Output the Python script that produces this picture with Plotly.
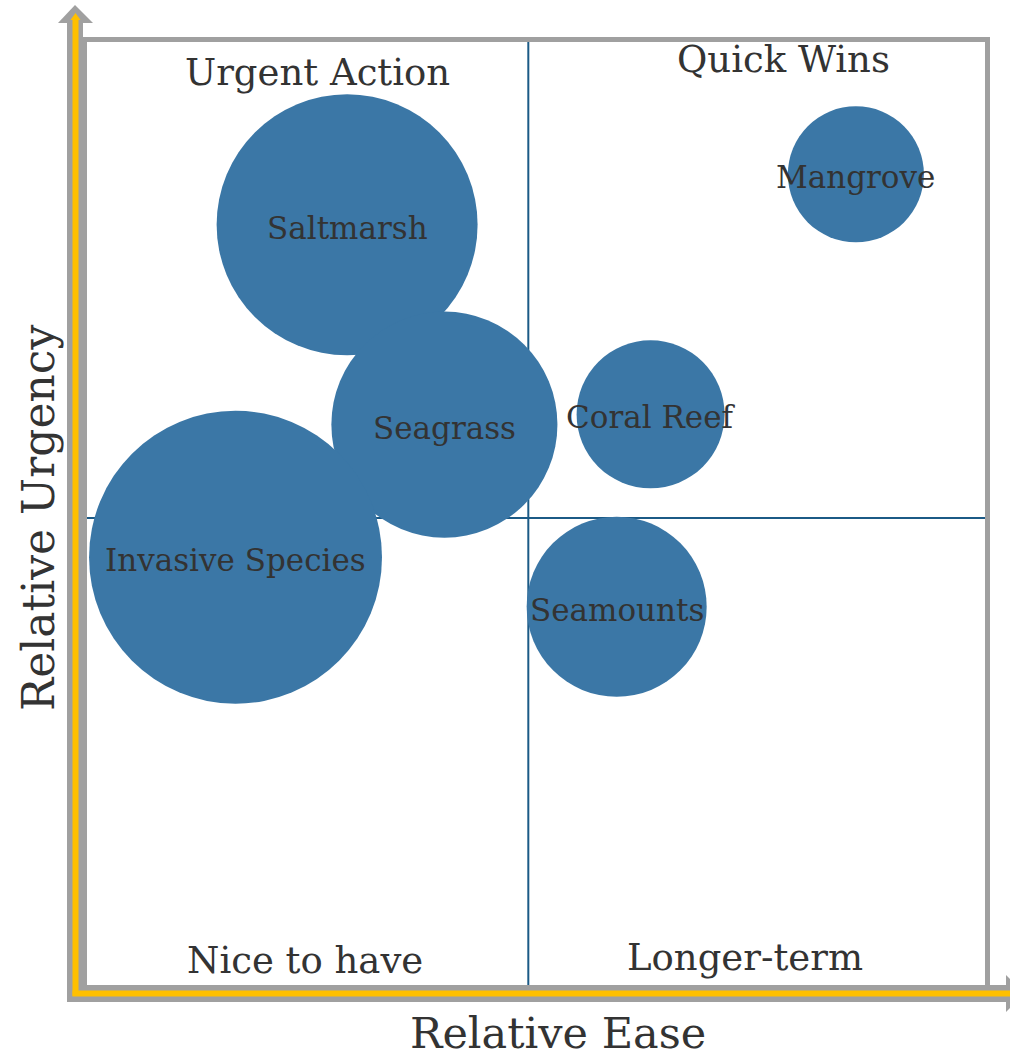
import plotly.graph_objects as go

# ---- data ----
habitats = ["Saltmarsh", "Seagrass", "Invasive Species", "Coral Reef", "Seamounts", "Mangrove"]
ease = [2.97, 4.06, 1.72, 6.37, 5.99, 8.67]
urgency = [8.14, 6.00, 4.58, 6.11, 4.05, 8.68]
impact = [6.81, 5.11, 8.58, 2.19, 3.24, 1.85]
quadrant_lines = [5.0, 5.0]  # ease split, urgency split
axis_range = [0, 10.15]

W, H = 1010, 1057
L, R, T, B = 82, 988, 37, 985
FONT = "DejaVu Serif"
TXT = "#333333"
BUBBLE = "#3b77a6"
GRAY = "#a0a0a0"
YEL = "#ffc000"


def px(x):
    return (x - L) / (R - L)


def py(y):
    return (B - y) / (B - T)


fig = go.Figure()
fig.add_trace(go.Scatter(
    x=ease, y=urgency, mode="markers",
    marker=dict(size=impact, sizemode="area", sizeref=2e-4, color=BUBBLE,
                line=dict(width=0), opacity=1),
    cliponaxis=False, hovertext=habitats, hoverinfo="text", showlegend=False,
))

shapes = []
# quadrant lines
shapes.append(dict(type="line", xref="x", yref="paper", x0=quadrant_lines[0], x1=quadrant_lines[0],
                   y0=0, y1=1, line=dict(color="#1b5a86", width=2), layer="below"))
shapes.append(dict(type="line", xref="paper", yref="y", x0=0, x1=1, y0=quadrant_lines[1],
                   y1=quadrant_lines[1], line=dict(color="#1b5a86", width=2), layer="below"))
# frame
shapes.append(dict(type="rect", xref="paper", yref="paper", x0=px(84.5), x1=px(987.5), y0=py(987.5),
                   y1=py(39.5), line=dict(color=GRAY, width=5), layer="above"))
# y arrow
shapes.append(dict(type="line", xref="paper", yref="paper", x0=px(75), x1=px(75), y0=py(1002),
                   y1=py(22), line=dict(color=GRAY, width=16), layer="above"))
shapes.append(dict(type="path", xref="paper", yref="paper",
                   path=f"M {px(58)} {py(23)} L {px(93)} {py(23)} L {px(75)} {py(5)} Z",
                   fillcolor=GRAY, line=dict(width=0), layer="above"))
# x arrow
shapes.append(dict(type="line", xref="paper", yref="paper", x0=px(67), x1=px(1008), y0=py(993.5),
                   y1=py(993.5), line=dict(color=GRAY, width=17), layer="above"))
shapes.append(dict(type="path", xref="paper", yref="paper",
                   path=f"M {px(1006)} {py(975)} L {px(1006)} {py(1012)} L {px(1025)} {py(993.5)} Z",
                   fillcolor=GRAY, line=dict(width=0), layer="above"))
# yellow shafts
shapes.append(dict(type="line", xref="paper", yref="paper", x0=px(75.5), x1=px(75.5), y0=py(996),
                   y1=py(18), line=dict(color=YEL, width=6), layer="above"))
shapes.append(dict(type="path", xref="paper", yref="paper",
                   path=f"M {px(70.5)} {py(20)} L {px(80.5)} {py(20)} L {px(75.5)} {py(13)} Z",
                   fillcolor=YEL, line=dict(width=0), layer="above"))
shapes.append(dict(type="line", xref="paper", yref="paper", x0=px(72.5), x1=px(1012), y0=py(993.5),
                   y1=py(993.5), line=dict(color=YEL, width=6), layer="above"))

annotations = []
# bubble labels, placed at each bubble's data position
for name, xv, yv in zip(habitats, ease, urgency):
    annotations.append(dict(text=name, x=xv, y=yv, xref="x", yref="y", showarrow=False,
                            xanchor="center", yanchor="middle", yshift=-3,
                            font=dict(family=FONT, size=31, color=TXT)))
for txt, cx, cy, sz in [("Urgent Action", 317, 72, 37), ("Quick Wins", 783, 60, 37),
                        ("Nice to have", 305, 960, 37), ("Longer-term", 745, 957, 37)]:
    annotations.append(dict(text=txt, x=px(cx), y=py(cy), xref="paper", yref="paper",
                            showarrow=False, xanchor="center", yanchor="middle",
                            font=dict(family=FONT, size=sz, color=TXT)))
annotations.append(dict(text="Relative Ease", x=px(558), y=py(1033), xref="paper", yref="paper",
                        showarrow=False, xanchor="center", yanchor="middle",
                        font=dict(family=FONT, size=43, color=TXT)))
annotations.append(dict(text="Relative Urgency", x=px(38), y=py(518), xref="paper", yref="paper",
                        showarrow=False, xanchor="center", yanchor="middle", textangle=-90,
                        font=dict(family=FONT, size=44, color=TXT)))

fig.update_layout(
    width=W, height=H,
    margin=dict(l=L, r=W - R, t=T, b=H - B),
    paper_bgcolor="white", plot_bgcolor="white",
    xaxis=dict(range=axis_range, showgrid=False, zeroline=False, showticklabels=False,
               ticks="", showline=False, fixedrange=True),
    yaxis=dict(range=axis_range, showgrid=False, zeroline=False, showticklabels=False,
               ticks="", showline=False, fixedrange=True),
    shapes=shapes, annotations=annotations,
)

fig.write_html("out.html", config={"displayModeBar": False},
               post_script="document.body.style.margin='0';document.body.style.overflow='hidden';")
